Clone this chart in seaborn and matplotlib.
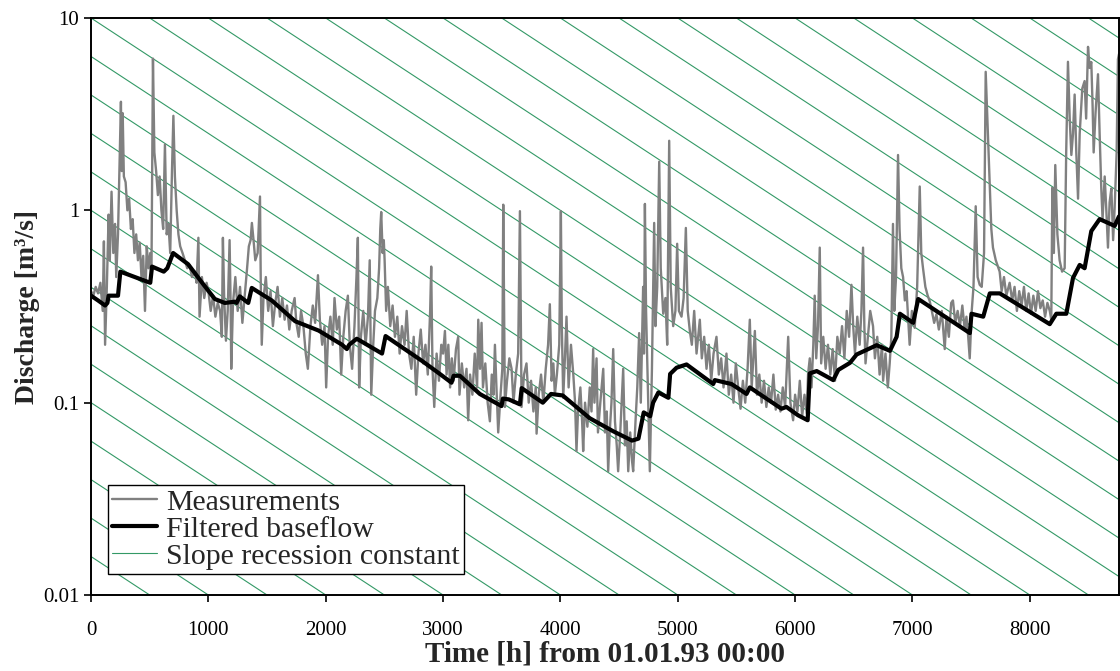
import numpy as np
import pandas as pd
import matplotlib
matplotlib.use('Agg')
import matplotlib.pyplot as plt
import seaborn as sns
from matplotlib.lines import Line2D
from matplotlib.ticker import FuncFormatter, NullLocator

meas_t_a = [0, 20, 40, 60, 80, 100, 110, 120, 135, 150, 160, 175, 190, 205, 215, 230, 245, 255, 262, 270,
            280, 295, 310, 325, 340, 355, 370, 385, 400, 415, 430, 445, 460, 475, 490, 505, 515, 528, 540, 555,
            570, 585, 600, 615, 630, 645, 660, 675, 690, 702, 715, 730, 745, 760, 780, 800, 820, 840, 860, 885,
            900, 915, 925, 945, 965, 985]
meas_q_a = [0.38, 0.36, 0.40, 0.37, 0.42, 0.30, 0.69, 0.20, 0.40, 0.95, 0.55, 1.25, 0.60, 0.85, 0.45, 0.75, 2.0, 3.67, 1.6, 3.2,
            1.5, 1.4, 1.0, 1.15, 0.80, 0.90, 0.60, 0.75, 0.55, 0.68, 0.45, 0.58, 0.30, 0.65, 0.50, 0.60, 0.45, 6.15, 2.0, 1.6,
            1.2, 1.5, 1.0, 0.8, 2.2, 0.75, 0.85, 0.60, 1.6, 3.1, 1.5, 1.0, 0.75, 0.65, 0.60, 0.55, 0.50, 0.52, 0.45, 0.48,
            0.42, 0.72, 0.28, 0.45, 0.35, 0.42]

meas_t_b = [1000, 1020, 1040, 1060, 1080, 1100, 1115, 1124, 1135, 1150, 1165, 1181, 1190, 1195, 1210, 1230, 1250, 1270,
            1290, 1310, 1330, 1345, 1360, 1371, 1385, 1400, 1420, 1440, 1447, 1455, 1470, 1490, 1510, 1530, 1550, 1570,
            1590, 1610, 1630, 1650, 1670, 1690, 1710, 1735, 1750, 1770, 1790, 1810, 1830, 1848, 1870, 1890, 1910, 1934,
            1950, 1970, 1990, 2004, 2020, 2040, 2060, 2075, 2095, 2115, 2132, 2150, 2170, 2189, 2205, 2225, 2245, 2262,
            2274, 2285, 2300, 2320, 2340, 2360, 2375, 2388, 2405, 2420, 2440, 2455, 2465, 2473, 2485, 2495, 2502, 2515,
            2530, 2550, 2570, 2590, 2610, 2630, 2650, 2672, 2690, 2710, 2730, 2750, 2771, 2790, 2810, 2830, 2850, 2870,
            2890, 2899, 2910, 2925, 2945, 2965, 2985]
meas_q_b = [0.38, 0.30, 0.36, 0.28, 0.33, 0.30, 0.22, 0.72, 0.35, 0.21, 0.30, 0.70, 0.32, 0.15, 0.33, 0.45, 0.30, 0.40,
            0.26, 0.36, 0.50, 0.65, 0.70, 0.86, 0.70, 0.55, 0.60, 1.18, 0.40, 0.20, 0.35, 0.45, 0.30, 0.38, 0.25, 0.33,
            0.40, 0.28, 0.35, 0.27, 0.32, 0.24, 0.30, 0.35, 0.26, 0.22, 0.30, 0.25, 0.18, 0.15, 0.25, 0.32, 0.26, 0.46,
            0.27, 0.20, 0.25, 0.12, 0.22, 0.28, 0.20, 0.35, 0.24, 0.28, 0.14, 0.22, 0.30, 0.36, 0.20, 0.15, 0.25, 0.45,
            0.72, 0.12, 0.22, 0.30, 0.20, 0.28, 0.55, 0.11, 0.20, 0.30, 0.35, 0.50, 0.80, 0.98, 0.60, 0.70, 0.55, 0.30,
            0.40, 0.25, 0.32, 0.22, 0.28, 0.18, 0.25, 0.20, 0.30, 0.18, 0.15, 0.22, 0.11, 0.18, 0.24, 0.16, 0.20, 0.14,
            0.30, 0.51, 0.15, 0.095, 0.18, 0.13, 0.20]

meas_t_c = [3000, 3016, 3030, 3045, 3060, 3075, 3090, 3110, 3129, 3140, 3160, 3180, 3200, 3214, 3230, 3250, 3270, 3290,
            3300, 3315, 3328, 3340, 3360, 3380, 3399, 3415, 3430, 3442, 3455, 3470, 3490, 3505, 3513, 3520, 3527, 3545,
            3565, 3584, 3600, 3620, 3640, 3655, 3662, 3669, 3690, 3711, 3730, 3750, 3770, 3790, 3797, 3815, 3835, 3855,
            3875, 3895, 3910, 3925, 3940, 3953, 3970, 3990, 4004, 4012, 4024, 4040, 4052, 4070, 4090, 4110, 4125, 4137,
            4150, 4170, 4185, 4194, 4210, 4230, 4250, 4265, 4279, 4290, 4308, 4320, 4340, 4365, 4380, 4395, 4407, 4420,
            4435, 4450, 4465, 4480, 4492, 4510, 4535, 4550, 4565, 4578, 4595, 4610, 4620, 4640, 4655, 4671, 4685, 4705,
            4712, 4720, 4730, 4745, 4762, 4780, 4799, 4810, 4825, 4842, 4855, 4876, 4895, 4910, 4927, 4940, 4961, 4980,
            4995, 5010, 5032, 5050, 5069, 5085]
meas_q_c = [0.18, 0.236, 0.14, 0.20, 0.12, 0.17, 0.13, 0.19, 0.22, 0.11, 0.16, 0.12, 0.15, 0.081, 0.14, 0.11, 0.18, 0.12,
            0.27, 0.15, 0.26, 0.12, 0.16, 0.10, 0.08, 0.14, 0.11, 0.20, 0.12, 0.07, 0.11, 0.15, 1.07, 0.30, 0.095, 0.13,
            0.17, 0.15, 0.10, 0.14, 0.18, 0.99, 0.30, 0.095, 0.14, 0.16, 0.10, 0.13, 0.09, 0.12, 0.069, 0.11, 0.14, 0.10,
            0.15, 0.20, 0.325, 0.13, 0.16, 0.11, 0.14, 0.20, 0.99, 0.25, 0.106, 0.18, 0.28, 0.12, 0.20, 0.14, 0.10, 0.056,
            0.09, 0.12, 0.08, 0.056, 0.10, 0.075, 0.12, 0.09, 0.19, 0.10, 0.17, 0.07, 0.10, 0.15, 0.07, 0.09, 0.044, 0.07,
            0.10, 0.19, 0.08, 0.06, 0.044, 0.07, 0.15, 0.06, 0.08, 0.044, 0.07, 0.05, 0.044, 0.08, 0.12, 0.23, 0.10, 0.40,
            0.18, 1.08, 0.30, 0.12, 0.044, 0.15, 0.86, 0.25, 0.40, 1.79, 0.50, 0.29, 0.35, 0.20, 2.3, 0.40, 0.25, 0.30,
            0.67, 0.30, 0.28, 0.35, 0.81, 0.30]

meas_t_d = [5103, 5120, 5140, 5160, 5188, 5205, 5225, 5245, 5265, 5285, 5305, 5330, 5350, 5370, 5390, 5415, 5435, 5455,
            5475, 5495, 5515, 5535, 5555, 5575, 5595, 5614, 5630, 5657, 5675, 5695, 5715, 5735, 5755, 5775, 5795, 5815,
            5835, 5855, 5875, 5895, 5915, 5941, 5960, 5983, 6000, 6020, 6040, 6060, 6080, 6100]
meas_q_d = [0.236, 0.20, 0.30, 0.18, 0.27, 0.17, 0.22, 0.15, 0.20, 0.13, 0.18, 0.22, 0.14, 0.17, 0.12, 0.18, 0.11, 0.14,
            0.10, 0.16, 0.12, 0.093, 0.13, 0.10, 0.15, 0.27, 0.12, 0.236, 0.11, 0.14, 0.10, 0.13, 0.095, 0.12, 0.10, 0.14,
            0.092, 0.11, 0.09, 0.12, 0.095, 0.22, 0.10, 0.081, 0.11, 0.09, 0.13, 0.085, 0.11, 0.088]

meas_t_e = [6110, 6125, 6140, 6155, 6167, 6180, 6195, 6210, 6222, 6240, 6260, 6280, 6300, 6320, 6340, 6360, 6380, 6400,
            6420, 6440, 6460, 6480, 6495, 6510, 6530, 6550, 6565, 6579, 6590, 6600, 6620, 6640, 6664, 6680, 6700, 6720,
            6740, 6750, 6770, 6790, 6806, 6820, 6834, 6845, 6860, 6877, 6890, 6905, 6920, 6935, 6950, 6976, 6995, 7019,
            7040, 7062, 7075, 7090, 7110, 7130, 7147, 7165, 7185, 7204, 7225, 7250, 7275, 7290, 7310, 7330, 7345, 7365,
            7385, 7405, 7425, 7445, 7460, 7475, 7488]
meas_q_e = [0.14, 0.17, 0.12, 0.20, 0.36, 0.17, 0.25, 0.64, 0.16, 0.22, 0.15, 0.20, 0.14, 0.19, 0.13, 0.22, 0.18, 0.25,
            0.17, 0.30, 0.22, 0.41, 0.25, 0.18, 0.28, 0.20, 0.30, 0.64, 0.25, 0.16, 0.22, 0.30, 0.25, 0.17, 0.22, 0.14,
            0.20, 0.13, 0.18, 0.12, 0.16, 0.22, 0.85, 0.30, 0.45, 1.94, 0.80, 0.50, 0.45, 0.34, 0.38, 0.20, 0.30, 0.245,
            0.40, 1.33, 0.60, 0.50, 0.40, 0.36, 0.337, 0.30, 0.26, 0.288, 0.24, 0.30, 0.19, 0.28, 0.22, 0.33, 0.34, 0.26,
            0.30, 0.25, 0.32, 0.24, 0.28, 0.22, 0.17]

meas_t_f = [7505, 7520, 7539, 7555, 7573, 7590, 7610, 7624, 7638, 7658, 7672, 7686, 7710, 7743, 7760, 7780, 7800, 7828,
            7850, 7870, 7890, 7910, 7930, 7950, 7970, 7990, 8010, 8030, 8050, 8070, 8090, 8110, 8130, 8150, 8170, 8183,
            8192, 8205, 8217, 8235, 8254, 8275, 8297, 8310, 8325, 8340, 8354, 8368, 8382, 8396, 8411, 8425, 8447, 8467,
            8480, 8496, 8510, 8524, 8535, 8544, 8560, 8581, 8595, 8609, 8620, 8638, 8652, 8666, 8680, 8695, 8710, 8723,
            8740, 8751, 8760]
meas_q_f = [0.30, 0.40, 1.05, 0.45, 0.41, 0.40, 0.60, 5.25, 3.0, 1.31, 0.80, 0.64, 0.55, 0.48, 0.38, 0.45, 0.36, 0.42,
            0.34, 0.40, 0.30, 0.38, 0.32, 0.40, 0.30, 0.37, 0.29, 0.36, 0.30, 0.38, 0.31, 0.34, 0.28, 0.33, 0.30, 0.27,
            1.31, 0.60, 1.72, 0.75, 0.55, 0.48, 0.50, 2.0, 5.92, 3.0, 1.94, 2.5, 4.0, 2.0, 1.15, 2.5, 4.3, 4.7,
            3.0, 7.08, 5.5, 5.9, 3.5, 2.0, 3.2, 5.1, 2.5, 1.3, 0.9, 1.5, 1.0, 0.64, 1.1, 1.3, 0.70, 1.03,
            2.0, 6.1, 6.5]

# Filtered baseflow
base_t = [0, 60, 120, 140, 150, 230, 250, 505, 520, 620, 650, 700, 827, 955, 1055, 1140, 1225, 1240, 1268, 1340,
          1370, 1540, 1740, 1940, 2140, 2180, 2200, 2265, 2480, 2510, 2820, 2973, 3072, 3090, 3143, 3313, 3498, 3510,
          3560, 3655, 3670, 3850, 3920, 4020, 4250, 4450, 4610, 4665, 4710, 4765, 4790, 4835, 4920, 4935, 4990, 5075,
          5302, 5316, 5458, 5586, 5614, 5884, 5926, 6025, 6107, 6125, 6184, 6325, 6368, 6467, 6524, 6695, 6808, 6865,
          6893, 7006, 7049, 7489, 7503, 7603, 7659, 7744, 8170, 8226, 8311, 8368, 8425, 8467, 8524, 8595, 8723, 8760]
base_q = [0.36, 0.34, 0.32, 0.33, 0.36, 0.36, 0.48, 0.42, 0.51, 0.48, 0.50, 0.60, 0.525, 0.414, 0.346, 0.33, 0.335,
          0.33, 0.357, 0.33, 0.395, 0.34, 0.265, 0.237, 0.20, 0.19, 0.20, 0.215, 0.18, 0.222, 0.165, 0.141, 0.127,
          0.138, 0.138, 0.111, 0.096, 0.105, 0.104, 0.098, 0.119, 0.10, 0.111, 0.109, 0.083, 0.071, 0.0635, 0.065,
          0.089, 0.085, 0.10, 0.113, 0.106, 0.141, 0.152, 0.158, 0.125, 0.131, 0.125, 0.111, 0.12, 0.093, 0.095, 0.086,
          0.081, 0.142, 0.146, 0.131, 0.148, 0.161, 0.178, 0.199, 0.186, 0.22, 0.29, 0.26, 0.346, 0.23, 0.29, 0.28,
          0.37, 0.37, 0.256, 0.29, 0.29, 0.445, 0.52, 0.50, 0.78, 0.90, 0.83, 0.93]

# recession constant: slope of the guide lines (decades per hour) and their spacing
t_end = 8760
rec_slope = -0.0004
rec_offsets = np.arange(-2.0, 4.61, 0.2)   # log10 of Q at t=0

x_ticks = [0, 1000, 2000, 3000, 4000, 5000, 6000, 7000, 8000]
y_ticks = [0.01, 0.1, 1, 10]

meas = pd.DataFrame({'t': meas_t_a + meas_t_b + meas_t_c + meas_t_d + meas_t_e + meas_t_f,
                     'q': meas_q_a + meas_q_b + meas_q_c + meas_q_d + meas_q_e + meas_q_f})
base = pd.DataFrame({'t': base_t, 'q': base_q})

rec = pd.DataFrame([(i, t, 10 ** (c + rec_slope * t)) for i, c in enumerate(rec_offsets) for t in (0, t_end)],
                   columns=['line', 't', 'q'])

sns.set_style('ticks')
plt.rcParams['font.family'] = ['Liberation Serif', 'DejaVu Serif']

green = '#339966'
grey = '#808080'

fig = plt.figure(figsize=(11.2, 6.71), dpi=100)
ax = fig.add_axes([91 / 1120, 1 - 595 / 671, 1028 / 1120, 577 / 671])
ax.set_yscale('log')

sns.lineplot(data=rec, x='t', y='q', units='line', estimator=None, color=green, linewidth=0.8, ax=ax, zorder=1)
sns.lineplot(data=meas, x='t', y='q', sort=False, estimator=None, color=grey, linewidth=1.7, ax=ax, zorder=2)
sns.lineplot(data=base, x='t', y='q', sort=False, estimator=None, color='black', linewidth=3, ax=ax, zorder=3)

ax.set_xlim(0, t_end)
ax.set_ylim(0.01, 10)
ax.set_xticks(x_ticks)
ax.set_yticks(y_ticks)
ax.yaxis.set_minor_locator(NullLocator())
ax.yaxis.set_major_formatter(FuncFormatter(lambda v, p: f'{v:g}'))
ax.tick_params(axis='both', labelsize=15, direction='out', length=5, width=1.2, colors='black')
ax.tick_params(axis='x', pad=14)

for s in ax.spines.values():
    s.set_visible(True)
    s.set_linewidth(1.4)
    s.set_color('black')

ax.set_xlabel('Time [h] from 01.01.93 00:00', fontsize=21, fontweight='bold', labelpad=0)
ax.set_ylabel('Discharge [m³/s]', fontsize=20, fontweight='bold', labelpad=2)

handles = [Line2D([], [], color=grey, linewidth=1.7),
           Line2D([], [], color='black', linewidth=3),
           Line2D([], [], color=green, linewidth=0.8)]
leg = ax.legend(handles, ['Measurements', 'Filtered baseflow', 'Slope recession constant'],
                loc='lower left', bbox_to_anchor=(0.0165, 0.036), borderaxespad=0,
                fontsize=21.5, frameon=True, fancybox=False, framealpha=1, edgecolor='black',
                labelspacing=0.0, borderpad=0.15, handlelength=1.5, handletextpad=0.3)
leg.get_frame().set_linewidth(1.0)

fig.savefig('out.png', dpi=100)
